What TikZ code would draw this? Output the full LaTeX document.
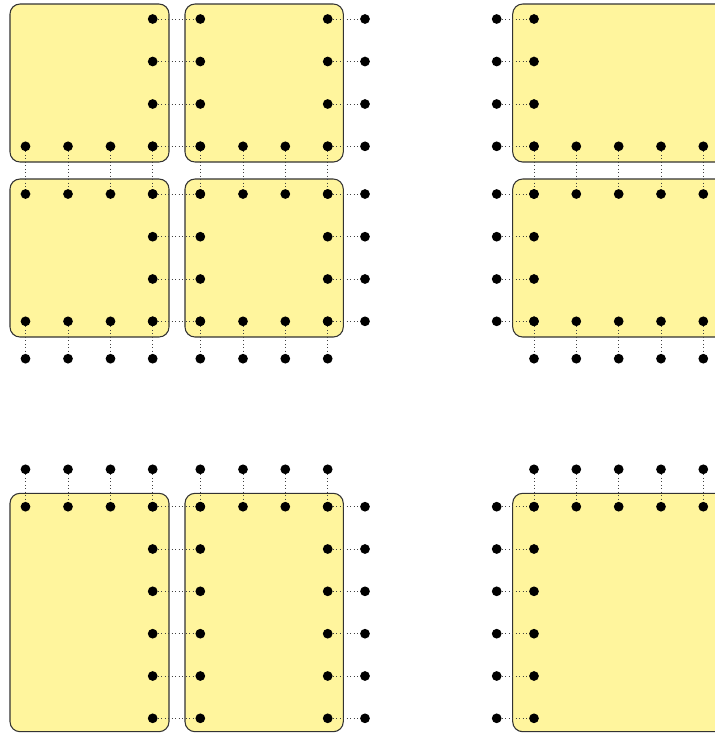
\documentclass[tikz,border=0pt]{standalone}
\definecolor{boxfill}{RGB}{255,245,157}
\newcommand\setX[2]{\expandafter\def\csname myX#1\endcsname{#2}}
\newcommand\setY[2]{\expandafter\def\csname myY#1\endcsname{#2}}
\newcommand\mydot[2]{\node[dot] (#1-#2) at (\csname myX#1\endcsname,\csname myY#2\endcsname) {};}
\setX{a1}{25.5}\setX{a2}{68}\setX{a3}{110.5}\setX{a4}{152.7}
\setX{b1}{200.3}\setX{b2}{243}\setX{b3}{285.3}\setX{b4}{327.7}
\setX{oR}{365}\setX{oL}{496.7}
\setX{c1}{534}\setX{c2}{576.3}\setX{c3}{618.7}\setX{c4}{661}\setX{c5}{703.3}
\setY{r1}{19}\setY{r2}{61.5}\setY{r3}{104}\setY{r4}{146.3}
\setY{s1}{194}\setY{s2}{236.7}\setY{s3}{279}\setY{s4}{321.3}
\setY{oB}{358.7}\setY{oT}{469.3}
\setY{t1}{506.7}\setY{t2}{549}\setY{t3}{591.3}\setY{t4}{633.7}\setY{t5}{676}\setY{t6}{718.3}
\begin{document}
\begin{tikzpicture}[x=0.75pt,y=-0.75pt,
  box/.style={draw=black!80,line width=0.8pt,fill=boxfill,rounded corners=7.5pt},
  dot/.style={circle,fill=black,inner sep=0pt,minimum size=7.3pt},
  link/.style={draw=black!75,line width=0.6pt,dotted}]
\useasboundingbox (0,0) rectangle (715,733);
\clip (0,0) rectangle (715,733);
% boxes
\path[box] (10,4) rectangle (169,162);
\path[box] (185,4) rectangle (343.3,162);
\path[box] (10,179) rectangle (169,337);
\path[box] (185,179) rectangle (343.3,337);
\path[box] (512.7,4) rectangle (740,162);
\path[box] (512.7,179) rectangle (740,337);
\path[box] (10,493.3) rectangle (169,731.7);
\path[box] (185,493.3) rectangle (343.3,731.7);
\path[box] (512.7,493.3) rectangle (740,731.7);
% dots
\foreach \c in {a4,b1,b4,oR} \foreach \r in {r1,r2,r3,r4,s1,s2,s3,s4} {\mydot{\c}{\r}}
\foreach \c in {a1,a2,a3,a4,b1,b2,b3,b4} \foreach \r in {r4,s1,s4,oB} {\mydot{\c}{\r}}
\foreach \c in {oL,c1} \foreach \r in {r1,r2,r3,r4,s1,s2,s3,s4} {\mydot{\c}{\r}}
\foreach \c in {c1,c2,c3,c4,c5} \foreach \r in {r4,s1,s4,oB} {\mydot{\c}{\r}}
\foreach \c in {a1,a2,a3,a4,b1,b2,b3,b4} \foreach \r in {oT,t1} {\mydot{\c}{\r}}
\foreach \c in {a4,b1,b4,oR} \foreach \r in {t1,t2,t3,t4,t5,t6} {\mydot{\c}{\r}}
\foreach \c in {c1,c2,c3,c4,c5} \foreach \r in {oT,t1} {\mydot{\c}{\r}}
\foreach \c in {oL,c1} \foreach \r in {t1,t2,t3,t4,t5,t6} {\mydot{\c}{\r}}
% links
\foreach \r in {r1,r2,r3,r4,s1,s2,s3,s4,t1,t2,t3,t4,t5,t6} {
  \draw[link] (a4-\r) -- (b1-\r);
  \draw[link] (b4-\r) -- (oR-\r);
  \draw[link] (oL-\r) -- (c1-\r);
}
\foreach \c in {a1,a2,a3,a4,b1,b2,b3,b4,c1,c2,c3,c4,c5} {
  \draw[link] (\c-r4) -- (\c-s1);
  \draw[link] (\c-s4) -- (\c-oB);
  \draw[link] (\c-oT) -- (\c-t1);
}
\end{tikzpicture}
\end{document}
